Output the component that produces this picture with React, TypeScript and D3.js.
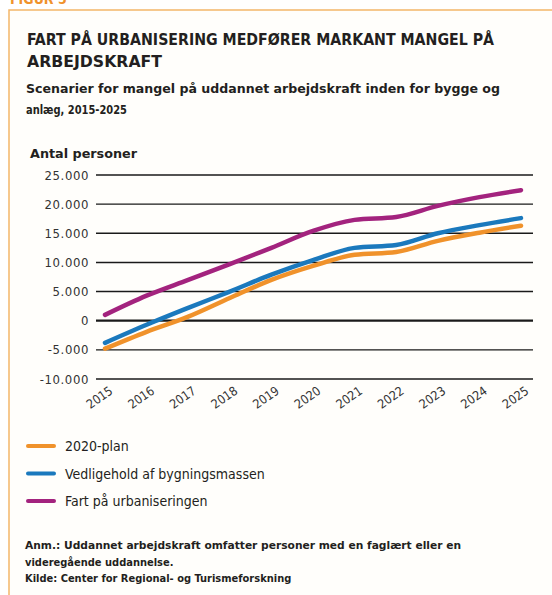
import { line, scaleLinear, scalePoint, curveMonotoneX } from 'd3'

const years = ['2015', '2016', '2017', '2018', '2019', '2020', '2021', '2022', '2023', '2024', '2025']
const plan2020 = [-4800, -1900, 700, 3900, 7000, 9400, 11300, 11800, 13700, 15100, 16300]
const vedligehold = [-3800, -700, 2200, 5000, 7900, 10400, 12500, 13000, 15000, 16400, 17600]
const urbanisering = [1000, 4300, 7000, 9700, 12500, 15400, 17300, 17800, 19700, 21200, 22400]
const yTicks = [25000, 20000, 15000, 10000, 5000, 0, -5000, -10000]

const seriesNames = ['2020-plan', 'Vedligehold af bygningsmassen', 'Fart på urbaniseringen']
const seriesColors = ['#f0922b', '#1b79bd', '#a3237e']

const font = "'DejaVu Sans Condensed', 'DejaVu Sans', sans-serif"
const fmt = (v: number) => (v < 0 ? '-' : '') + Math.abs(v).toLocaleString('da-DK').replace(/\./g, '.')

export default function App() {
  const x = scalePoint<string>().domain(years).range([105, 521])
  const y = scaleLinear().domain([-10000, 25000]).range([379, 175])
  const path = line<number>()
    .x((_, i) => x(years[i]) as number)
    .y((d) => y(d))
    .curve(curveMonotoneX)
  const allSeries = [plan2020, vedligehold, urbanisering]

  return (
    <svg
      width={552}
      height={595}
      style={{ position: 'absolute', left: 0, top: 0, background: '#fff' }}
      fontFamily={font}
    >
      <text x={10} y={4} fill="#f0922b" fontWeight="bold" fontSize={14}>FIGUR 5</text>
      <rect x={9} y={10} width={560} height={600} fill="#fffefb" stroke="#f3b66a" strokeWidth={1.5} />

      {/* title */}
      <g fill="#231f20" fontWeight="bold">
        <text x={27} y={45} fontSize={16} textLength={467} lengthAdjust="spacingAndGlyphs">
          FART PÅ URBANISERING MEDFØRER MARKANT MANGEL PÅ
        </text>
        <text x={27} y={67} fontSize={16} textLength={135} lengthAdjust="spacingAndGlyphs">ARBEJDSKRAFT</text>
        <text x={26} y={93} fontSize={13} textLength={474} lengthAdjust="spacingAndGlyphs">
          Scenarier for mangel på uddannet arbejdskraft inden for bygge og
        </text>
        <text x={26} y={114} fontSize={13} textLength={101} lengthAdjust="spacingAndGlyphs">anlæg, 2015-2025</text>
        <text x={30} y={158} fontSize={13} textLength={107} lengthAdjust="spacingAndGlyphs">Antal personer</text>
      </g>

      {/* grid + y labels */}
      {yTicks.map((t) => (
        <g key={t}>
          <line x1={96} x2={533} y1={y(t)} y2={y(t)} stroke="#1a1a1a" strokeWidth={t === 0 ? 2.2 : 1.4} />
          <text x={89} y={y(t) + 4.5} textAnchor="end" fontSize={13} fill="#333" letterSpacing={0.6}>
            {fmt(t)}
          </text>
        </g>
      ))}

      {/* x labels */}
      {years.map((yr) => (
        <text
          key={yr}
          transform={`translate(${(x(yr) as number) - 3},${401}) rotate(-35)`}
          textAnchor="middle"
          fontSize={12.5}
          fill="#333"
        >
          {yr}
        </text>
      ))}

      {/* lines */}
      {allSeries.map((s, i) => (
        <path key={i} d={path(s) ?? ''} fill="none" stroke={seriesColors[i]} strokeWidth={4.5} strokeLinecap="round" />
      ))}

      {/* legend */}
      {seriesNames.map((n, i) => (
        <g key={n}>
          <line x1={28} x2={54} y1={446 + i * 27.5} y2={446 + i * 27.5} stroke={seriesColors[i]} strokeWidth={4} strokeLinecap="round" />
          <text x={65} y={451 + i * 27.5} fontSize={14} fill="#231f20">{n}</text>
        </g>
      ))}

      {/* notes */}
      <g fontSize={11} fill="#231f20" fontWeight="bold">
        <text x={25} y={549} textLength={436} lengthAdjust="spacingAndGlyphs">
          Anm.: Uddannet arbejdskraft omfatter personer med en faglært eller en
        </text>
        <text x={25} y={566}>videregående uddannelse.</text>
        <text x={25} y={582}>Kilde: Center for Regional- og Turismeforskning</text>
      </g>
    </svg>
  )
}
